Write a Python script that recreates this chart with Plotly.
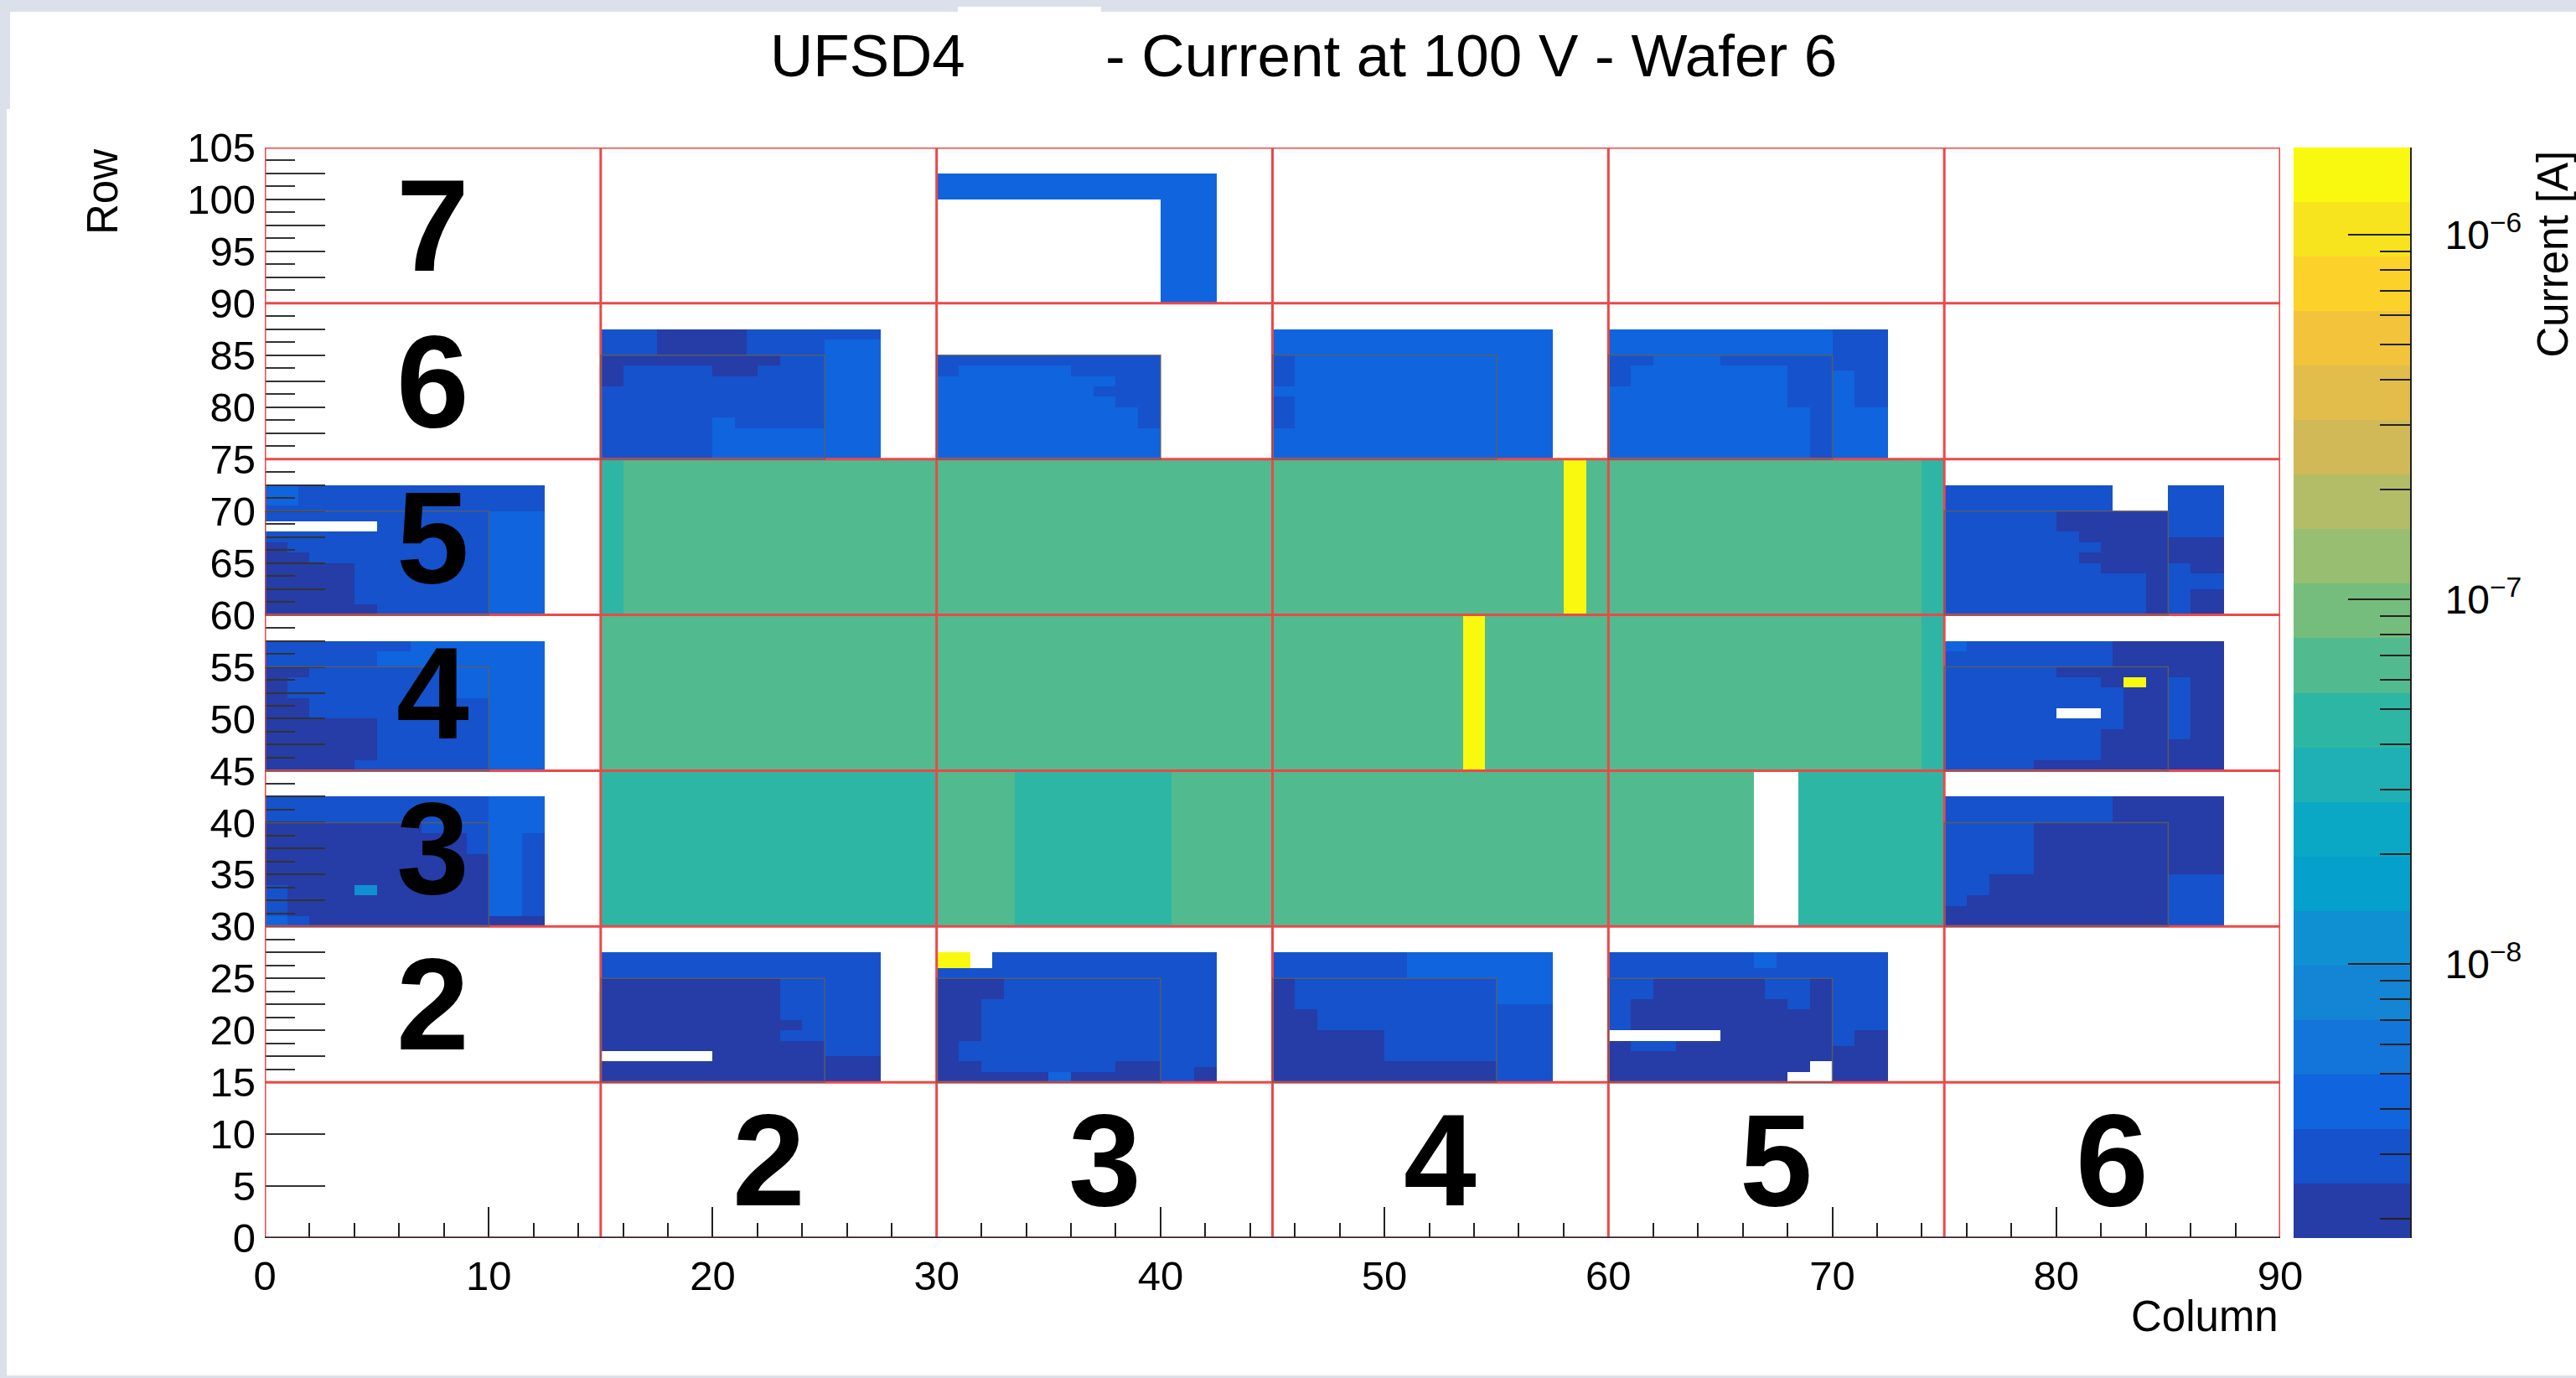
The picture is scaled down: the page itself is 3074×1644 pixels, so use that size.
import numpy as np
import plotly.graph_objects as go

# ---------------- data (currents in A) ----------------
N, M, L, C = 2.2e-9, 3.0e-9, 4.0e-9, 1.2e-8      # navy, mid blue, light blue, cyan
T, G, YL = 4.6e-8, 6.5e-8, 1.7e-6                # teal, green, yellow (saturated)
W = float("nan")                                  # missing pixel

# each entry: (col_from, col_to, row_from, row_to, current) painted in order
row7_c3 = [(30, 42.5, 100, 102.5, L), (40, 42.5, 90, 100, L)]

row6_c2 = [(15, 27.5, 75, 87.5, M), (25, 27.5, 75, 86.5, L), (17.5, 21.5, 85, 87.5, N),
           (15, 23, 84, 85, N), (15, 16, 82, 84, N), (20, 22, 83, 84, N),
           (20, 21, 75, 79, L), (21, 25, 75, 78, L)]
row6_c3 = [(30, 40, 75, 85, L), (30, 40, 84, 85, M), (30, 31, 83, 84, M), (36, 40, 83, 84, M),
           (38, 40, 82, 83, M), (37, 40, 81, 82, M), (38, 40, 80, 81, M), (39, 40, 78, 80, M)]
row6_c4 = [(45, 57.5, 75, 87.5, L), (45, 46, 82, 85, M), (45, 46, 78, 81, M)]
row6_c5 = [(60, 72.5, 75, 87.5, L), (70, 72.5, 83.5, 87.5, M), (71, 72.5, 80, 83.5, M),
           (60, 62, 84, 85, M), (65, 70, 84, 85, M), (60, 61, 82, 84, M),
           (68, 70, 80, 84, M), (69, 70, 75, 80, M)]

row2_c2 = [(15, 27.5, 15, 27.5, M), (15, 25, 15, 25, N), (25, 27.5, 15, 17.5, N),
           (23, 25, 21, 25, M), (24, 25, 20, 21, M), (23, 25, 19, 20, M), (15, 20, 17, 18, W)]
row2_c3 = [(30, 42.5, 15, 27.5, M), (30, 31.5, 26, 27.5, YL), (31.5, 32.5, 26, 27.5, W),
           (41.5, 42.5, 15, 16.5, N), (30, 33, 23, 25, N), (30, 32, 19, 23, N),
           (30, 31, 17, 19, N), (30, 32, 16, 17, N), (30, 35, 15, 16, N),
           (36, 38, 15, 16, N), (38, 40, 15, 17, N), (35, 36, 15, 16, L)]
row2_c4 = [(45, 57.5, 15, 27.5, M), (51, 57.5, 25, 27.5, L), (55, 57.5, 22.5, 25, L),
           (45, 46, 22, 25, N), (45, 47, 20, 22, N), (45, 50, 17, 20, N), (45, 55, 15, 17, N)]
row2_c5 = [(60, 72.5, 15, 27.5, M), (60, 70, 15, 25, N), (66.5, 67.5, 26, 27.5, L),
           (71, 72.5, 15, 20, N), (70, 71, 15, 18.5, N), (60, 62, 23, 25, M),
           (60, 61, 20, 23, M), (61, 63, 18, 19, M), (67, 69, 23, 25, M), (68, 69, 22, 23, M),
           (60, 65, 19, 20, W), (69, 70, 15, 17, W), (68, 69, 15, 16, W)]

big_r5 = [(15, 75, 60, 75, G), (15, 16, 60, 75, T), (74, 75, 60, 75, T), (58, 59, 60, 75, YL)]
big_r4 = [(15, 75, 45, 60, G), (74, 75, 45, 60, T), (53.5, 54.5, 45, 60, YL)]
big_r3 = [(15, 30, 30, 45, T), (30, 33.5, 30, 45, G), (33.5, 40.5, 30, 45, T),
          (40.5, 66.5, 30, 45, G), (66.5, 68.5, 30, 45, W), (68.5, 75, 30, 45, T)]

left_r5 = [(0, 12.5, 60, 72.5, M), (10, 12.5, 60, 70, L), (0, 1.5, 70.5, 72.5, L),
           (0, 5, 68, 69, W), (0, 1, 66, 67, N), (0, 2, 65, 66, N), (0, 4, 61, 65, N), (0, 5, 60, 61, N)]
left_r4 = [(0, 12.5, 45, 57.5, M), (6.5, 12.5, 55, 57.5, L), (5, 6.5, 55, 56.5, L),
           (10, 12.5, 45, 55, L), (8.5, 10, 52, 55, L), (0, 2, 54, 55, N), (0, 1, 52, 54, N),
           (0, 2, 50, 52, N), (0, 5, 46, 50, N), (0, 4, 45, 46, N)]
left_r3 = [(0, 12.5, 30, 42.5, M), (10, 12.5, 39, 42.5, L), (10, 11.5, 31, 39, L),
           (10, 12.5, 30, 31, N), (0, 10, 30, 40, N), (7, 10, 39, 40, M), (9, 10, 37, 39, M),
           (0, 1, 30, 34, M), (1, 2, 30, 31, M), (0, 1, 30, 31, L), (4, 5, 33, 34, C)]

right_r5 = [(75, 87.5, 60, 72.5, M), (82.5, 85, 70, 72.5, W), (85, 87.5, 65, 67.5, N),
            (86, 87.5, 64, 65, N), (86, 87.5, 60, 62.5, N), (80, 85, 68, 70, N),
            (81, 85, 67, 68, N), (82, 85, 66, 67, N), (81, 85, 65, 66, N),
            (82, 85, 64, 65, N), (84, 85, 60, 64, N)]
right_r4 = [(75, 87.5, 45, 57.5, M), (75, 76, 56.5, 57.5, L), (82.5, 87.5, 55, 57.5, N),
            (85, 87.5, 45, 55, N), (85, 86, 48, 54, M), (80, 85, 54, 55, N),
            (82, 83, 53, 54, N), (83, 85, 49, 54, N), (82, 85, 46, 49, N),
            (79, 85, 45, 46, N), (83, 84, 53, 54, YL), (80, 82, 50, 51, W)]
right_r3 = [(75, 87.5, 30, 42.5, N), (75, 82.5, 40, 42.5, M), (85, 87.5, 30, 35, M),
            (75, 79, 35, 40, M), (75, 77, 33, 35, M), (75, 76, 32, 33, M)]

regions = [row7_c3, row6_c2, row6_c3, row6_c4, row6_c5, row2_c2, row2_c3, row2_c4, row2_c5,
           big_r5, big_r4, big_r3, left_r5, left_r4, left_r3, right_r5, right_r4, right_r3]

# inner 10x10 pads (lower-left corners) with outlines
pads = [(15, 75), (30, 75), (45, 75), (60, 75), (15, 15), (30, 15), (45, 15), (60, 15),
        (0, 60), (0, 45), (0, 30), (75, 60), (75, 45), (75, 30)]

row_labels = ["2", "3", "4", "5", "6", "7"]
col_labels = ["2", "3", "4", "5", "6"]

x_ticks = list(range(0, 91, 10))
y_ticks = list(range(0, 106, 5))
cbar_major = [-8, -7, -6]

LOGMIN, LOGMAX = -8.752, -5.761
palette = ["#263ca6", "#1652cc", "#1064de", "#1374d9", "#1484d4", "#0e90d2", "#05a0cb",
           "#0aa8c4", "#1eb0b5", "#2eb6a5", "#52ba8f", "#75bd7c", "#97be71", "#b3bd68",
           "#d1b957", "#e2bd4c", "#f2c33b", "#fcd22a", "#f8e31f", "#f9f90f"]

# ---------------- build grid ----------------
step = 0.5
xc = np.arange(0, 90, step) + step / 2
yc = np.arange(0, 105, step) + step / 2
Z = np.full((len(yc), len(xc)), np.nan)
for reg in regions:
    for x0, x1, y0, y1, v in reg:
        mx = (xc > x0) & (xc < x1)
        my = (yc > y0) & (yc < y1)
        Z[np.ix_(my, mx)] = np.log10(v) if v == v else np.nan
Z = np.clip(Z, LOGMIN + 1e-6, LOGMAX - 1e-6)

nb = len(palette)
cs = []
for k, c in enumerate(palette):
    cs += [[k / nb, c], [(k + 1) / nb, c]]

FONT = "Liberation Sans, Arial, Helvetica, sans-serif"
W_FIG, H_FIG = 3074, 1644
ML, MR, MT, MB = 316, 198, 176, 167
PW = W_FIG - ML - MR
PH = H_FIG - MT - MB
main_right = 2721
cb_left, cb_right = 2737, 2876


def px(x):
    return (x - ML) / PW


def py(y):
    return (H_FIG - MB - y) / PH


fig = go.Figure()
fig.add_trace(go.Heatmap(x=xc, y=yc, z=Z, colorscale=cs, zmin=LOGMIN, zmax=LOGMAX,
                         showscale=False, hoverongaps=False, xaxis="x", yaxis="y"))

bw = (LOGMAX - LOGMIN) / nb
band_centers = [LOGMIN + (k + 0.5) * bw for k in range(nb)]
fig.add_trace(go.Heatmap(x=[0], y=band_centers, z=[[v] for v in band_centers], colorscale=cs,
                         zmin=LOGMIN, zmax=LOGMAX, showscale=False, xaxis="x2", yaxis="y2"))

# axis ticks
y_tickvals = y_ticks + [2.5 + 5 * k for k in range(3, 21)]
y_ticktext = [str(v) for v in y_ticks] + [""] * 18
y_minor = [15 + 1.25 * (2 * j + 1) for j in range(36)]
cb_minor = [float(np.log10(m * 10.0 ** e)) for e in (-9, -8, -7, -6) for m in range(2, 10)
            if LOGMIN < np.log10(m * 10.0 ** e) < LOGMAX]

tickfont = dict(family=FONT, size=49, color="black")
fig.update_layout(
    width=W_FIG, height=H_FIG, margin=dict(l=ML, r=MR, t=MT, b=MB, pad=0),
    paper_bgcolor="white", plot_bgcolor="white", showlegend=False,
    xaxis=dict(domain=[0, px(main_right)], range=[0, 90], tickvals=x_ticks, ticks="inside",
               ticklen=37, tickwidth=2, tickcolor="#222", showgrid=False, zeroline=False,
               showline=False, tickfont=tickfont, ticklabelstandoff=12,
               minor=dict(dtick=2, tick0=0, ticks="inside", ticklen=18, tickwidth=2, tickcolor="#222",
                          showgrid=False)),
    yaxis=dict(range=[0, 105], tickvals=y_tickvals, ticktext=y_ticktext, ticks="inside",
               ticklen=72, tickwidth=2, tickcolor="#333", showgrid=False, zeroline=False,
               showline=False, tickfont=tickfont, ticklabelstandoff=10,
               minor=dict(tickvals=y_minor, ticks="inside", ticklen=36, tickwidth=2,
                          tickcolor="#333", showgrid=False)),
    xaxis2=dict(domain=[px(cb_left), px(cb_right)], range=[-0.5, 0.5], visible=False,
                anchor="y2"),
    yaxis2=dict(domain=[0, 1], range=[LOGMIN, LOGMAX], anchor="x2", side="right",
                tickvals=cbar_major, ticktext=["10<sup>\u22128</sup>", "10<sup>\u22127</sup>",
                                               "10<sup>\u22126</sup>"],
                ticks="inside", ticklen=74, tickwidth=2, tickcolor="#222", showgrid=False,
                zeroline=False, showline=True, linecolor="#222", linewidth=2,
                tickfont=dict(family=FONT, size=48, color="black"), ticklabelstandoff=30,
                minor=dict(tickvals=cb_minor, ticks="inside", ticklen=36, tickwidth=2,
                           tickcolor="#222", showgrid=False)),
)

shapes = []
RED = "#ec4848"
cell = 15
for k in range(1, 6):
    shapes.append(dict(type="line", xref="x", yref="y", x0=k * cell, x1=k * cell, y0=0, y1=105,
                       line=dict(color=RED, width=3)))
for k in range(1, 7):
    shapes.append(dict(type="line", xref="x", yref="y", x0=0, x1=90, y0=k * cell, y1=k * cell,
                       line=dict(color=RED, width=3)))
shapes.append(dict(type="rect", xref="x", yref="y", x0=0, x1=90, y0=0, y1=105,
                   line=dict(color=RED, width=3)))
shapes.append(dict(type="line", xref="x", yref="y", x0=0, x1=90, y0=0, y1=0,
                   line=dict(color="#222", width=3)))
for (ox, oy) in pads:
    shapes.append(dict(type="rect", xref="x", yref="y", x0=ox, x1=ox + 10, y0=oy, y1=oy + 10,
                       line=dict(color="rgba(95,95,95,0.85)", width=1.5), layer="above"))

# screenshot frame
FR = "#dce0ea"
frame_px = [(0, W_FIG, 0, 14), (0, 12, 0, 130), (0, 8, 130, H_FIG), (0, W_FIG, H_FIG - 3, H_FIG)]
for x0, x1, y0, y1 in frame_px:
    shapes.append(dict(type="rect", xref="paper", yref="paper", x0=px(x0), x1=px(x1),
                       y0=py(y1), y1=py(y0), line=dict(width=0), fillcolor=FR, layer="above"))
shapes.append(dict(type="rect", xref="paper", yref="paper", x0=px(1143), x1=px(1314),
                   y0=py(14), y1=py(8), line=dict(width=0), fillcolor="white", layer="above"))
fig.update_layout(shapes=shapes)

ann = []
big = dict(family=FONT, size=156, color="black")
for i, t in enumerate(row_labels):
    ann.append(dict(x=7.5, y=22.5 + 15 * i, xref="x", yref="y", text="<b>%s</b>" % t,
                    showarrow=False, font=big, xanchor="center", yanchor="middle"))
for i, t in enumerate(col_labels):
    ann.append(dict(x=22.5 + 15 * i, y=7.5, xref="x", yref="y", text="<b>%s</b>" % t,
                    showarrow=False, font=big, xanchor="center", yanchor="middle"))
tfont = dict(family=FONT, size=71, color="black")
ann.append(dict(x=px(917), y=py(66), xref="paper", yref="paper", text="UFSD4", showarrow=False,
                font=tfont, xanchor="left", yanchor="middle"))
ann.append(dict(x=px(1317), y=py(66), xref="paper", yref="paper",
                text="- Current at 100 V - Wafer 6", showarrow=False, font=tfont,
                xanchor="left", yanchor="middle"))
lfont = dict(family=FONT, size=51, color="black")
ann.append(dict(x=px(122), y=py(176), xref="paper", yref="paper", text="Row", textangle=-90,
                showarrow=False, font=lfont, xanchor="center", yanchor="top"))
ann.append(dict(x=px(main_right), y=py(1570), xref="paper", yref="paper", text="Column",
                showarrow=False, font=lfont, xanchor="right", yanchor="middle"))
ann.append(dict(x=px(3046), y=py(178), xref="paper", yref="paper", text="Current [A]",
                textangle=-90, showarrow=False, font=lfont, xanchor="center", yanchor="top"))
fig.update_layout(annotations=ann)

fig.write_html("out.html", config={"displayModeBar": False},
               post_script="document.body.style.margin='0';document.body.style.overflow='hidden';")
